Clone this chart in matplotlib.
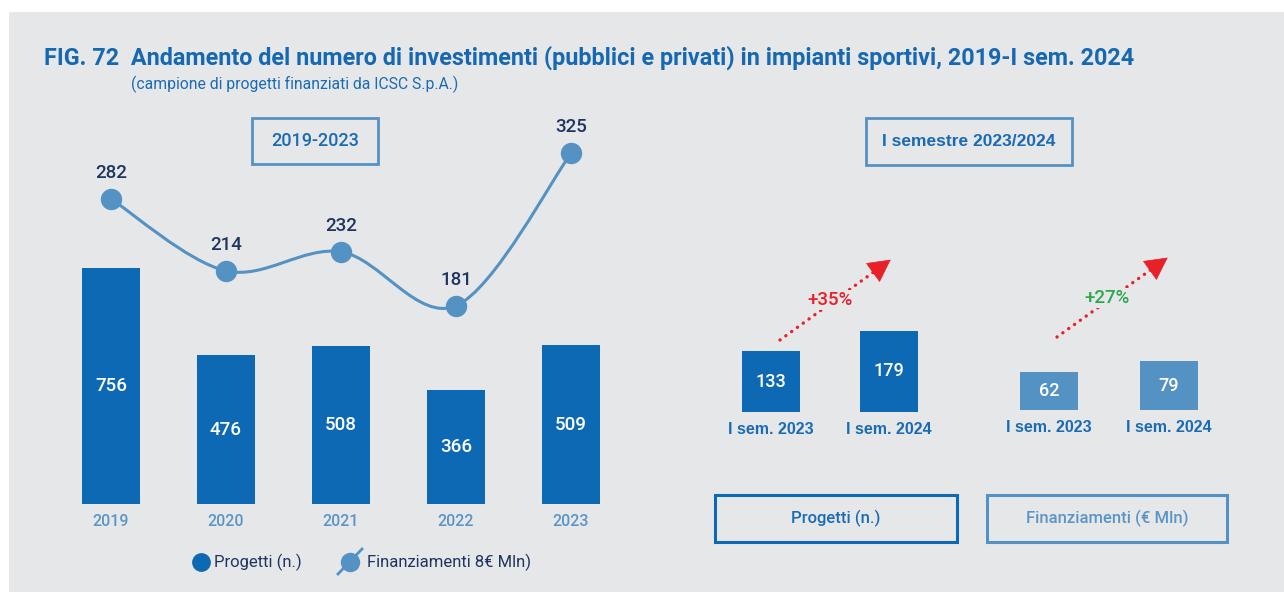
import numpy as np
import matplotlib
matplotlib.use('Agg')
import matplotlib.pyplot as plt
from matplotlib.path import Path
from matplotlib.patches import PathPatch, Rectangle
from matplotlib.lines import Line2D

W, H = 1284, 592

# dati 2019-2023
anni = ['2019', '2020', '2021', '2022', '2023']
progetti = [756, 476, 508, 366, 509]
finanziamenti = [282, 214, 232, 181, 325]

# dati primo semestre
sem_labels = ['I sem. 2023', 'I sem. 2024']
sem_progetti = [133, 179]
sem_finanz = [62, 79]
var_progetti = '+35%'
var_finanz = '+27%'

BG = '#e6e7e9'
BLU = '#0e69b4'
AZZ = '#5592c4'
TXT = '#1a6bb5'
TXT2 = '#5b95c7'
NAVY = '#1f3560'
ROSSO = '#e8202a'
VERDE = '#2ba84a'

plt.rcParams['font.family'] = ['Liberation Sans', 'DejaVu Sans']
PLEX = ['Roboto', 'DejaVu Sans']
COND = ['Liberation Sans Narrow', 'Roboto', 'DejaVu Sans']

fig = plt.figure(figsize=(W / 100, H / 100), dpi=100)
fig.patch.set_facecolor('white')


def fx(px):
    return px / W


def fy(py):
    return 1 - py / H


fig.add_artist(Rectangle((fx(9), 0), 1, fy(12), transform=fig.transFigure,
                         facecolor=BG, edgecolor='none', zorder=-10))


def pannello(x0, y0, x1, y1):
    # axes in pixel, origine in alto a sinistra
    ax = fig.add_axes([fx(x0), fy(y1), (x1 - x0) / W, (y1 - y0) / H])
    ax.set_axis_off()
    ax.patch.set_alpha(0)
    return ax


def riquadro(x0, y0, x1, y1, testo, ec, tc, lw=2, size=12, weight='bold', family=PLEX):
    fig.add_artist(Rectangle((fx(x0), fy(y1)), (x1 - x0) / W, (y1 - y0) / H,
                             transform=fig.transFigure, facecolor='none',
                             edgecolor=ec, lw=lw))
    fig.text(fx((x0 + x1) / 2), fy((y0 + y1) / 2), testo, ha='center', va='center',
             color=tc, fontsize=size, fontweight=weight, family=family)


def freccia(x0, y0, x1, y1, colore):
    t = 0.86
    xm, ym = x0 + (x1 - x0) * t, y0 + (y1 - y0) * t
    fig.add_artist(Line2D([fx(x0), fx(xm)], [fy(y0), fy(ym)], transform=fig.transFigure,
                          color=colore, lw=2.4, ls=(0, (0.05, 2.1)),
                          dash_capstyle='round', zorder=2))
    fig.add_artist(matplotlib.patches.FancyArrowPatch(
        (fx(xm - (x1 - x0) * 0.02), fy(ym - (y1 - y0) * 0.02)), (fx(x1), fy(y1)),
        transform=fig.transFigure, arrowstyle='-|>,head_length=0.95,head_width=0.5',
        mutation_scale=16, color=colore, lw=0.5, zorder=2))


# titolo
fig.text(fx(44), fy(58), 'FIG. 72  Andamento del numero di investimenti (pubblici e privati) '
         'in impianti sportivi, 2019-I sem. 2024', ha='left', va='center',
         fontsize=16.8, fontweight='bold', color='#1568b1', family=COND)
fig.text(fx(131), fy(84), '(campione di progetti finanziati da ICSC S.p.A.)', ha='left',
         va='center', fontsize=11.3, color=TXT, family=COND)

# --- pannello 2019-2023 ---
ax = pannello(53.5, 84, 628.5, 504)
x = np.arange(len(anni))
ax.set_xlim(-0.5, len(anni) - 0.5)
ax.set_ylim(0, 420 / 0.312)
ax.bar(x, progetti, width=0.504, color=BLU, zorder=1)
for i, v in enumerate(progetti):
    ax.text(i, v / 2, str(v), ha='center', va='center', color='white', fontsize=13.5,
            family=PLEX, fontweight='medium')
    ax.annotate(anni[i], (i, 0), xytext=(0, -18), textcoords='offset pixels',
                ha='center', va='center', color=TXT2, fontsize=11.5,
                family=PLEX, fontweight='medium')

ax2 = pannello(53.5, 84, 628.5, 504)
ax2.set_xlim(-0.5, len(anni) - 0.5)
ax2.set_ylim(-6.33, 390.6)
pts = np.column_stack([x, finanziamenti]).astype(float)
verts = [pts[0]]
codes = [Path.MOVETO]
n = len(pts)
for i in range(n - 1):
    p0, p1, p2, p3 = pts[max(i - 1, 0)], pts[i], pts[i + 1], pts[min(i + 2, n - 1)]
    verts += [p1 + (p2 - p0) / 6, p2 - (p3 - p1) / 6, p2]
    codes += [Path.CURVE4] * 3
ax2.add_patch(PathPatch(Path(verts, codes), facecolor='none', edgecolor=AZZ, lw=2.2, zorder=3))
ax2.plot(x, finanziamenti, 'o', ms=14.4, color=AZZ, zorder=4)
for i, v in enumerate(finanziamenti):
    ax2.annotate(str(v), (i, v), xytext=(0, 26), textcoords='offset pixels',
                 ha='center', va='center', color=NAVY, fontsize=13.5,
                 family=PLEX, fontweight='medium')

riquadro(252, 118, 378, 164, '2019-2023', AZZ, TXT, size=13, weight='medium')

# legenda
fig.add_artist(Line2D([fx(201)], [fy(562)], transform=fig.transFigure, marker='o',
                      ms=12.5, color=BLU, ls='none'))
fig.text(fx(214), fy(562), 'Progetti (n.)', ha='left', va='center', fontsize=12,
         color=NAVY, family=PLEX)
fig.add_artist(Line2D([fx(338), fx(362)], [fy(574), fy(549)], transform=fig.transFigure,
                      color=AZZ, lw=2))
fig.add_artist(Line2D([fx(350)], [fy(562)], transform=fig.transFigure, marker='o',
                      ms=13, color=AZZ, ls='none'))
fig.text(fx(367), fy(562), 'Finanziamenti 8€ Mln)', ha='left', va='center', fontsize=12,
         color=NAVY, family=PLEX)

# --- pannello primo semestre ---
riquadro(866, 118, 1072, 165, 'I semestre 2023/2024', AZZ, TXT, size=12.5,
         family=['Liberation Sans'])

axp = pannello(712, 212, 948, 412)
axp.set_xlim(-0.5, 1.5)
axp.set_ylim(0, 200 / 0.455)
axp.bar([0, 1], sem_progetti, width=0.49, color=BLU)
for i, v in enumerate(sem_progetti):
    axp.text(i, v / 2, str(v), ha='center', va='center', color='white', fontsize=13,
             family=PLEX, fontweight='medium')
    axp.annotate(sem_labels[i], (i, 0), xytext=(0, -18), textcoords='offset pixels',
                 ha='center', va='center', color=TXT, fontsize=11.5, fontweight='bold')

axf = pannello(989, 210, 1229, 410)
axf.set_xlim(-0.5, 1.5)
axf.set_ylim(0, 200 / 0.62)
axf.bar([0, 1], sem_finanz, width=0.483, color=AZZ)
for i, v in enumerate(sem_finanz):
    axf.text(i, v / 2, str(v), ha='center', va='center', color='white', fontsize=13,
             family=PLEX, fontweight='medium')
    axf.annotate(sem_labels[i], (i, 0), xytext=(0, -17), textcoords='offset pixels',
                 ha='center', va='center', color=TXT, fontsize=11.5, fontweight='bold')

freccia(780, 340, 893, 258, ROSSO)
fig.text(fx(830), fy(300), var_progetti, ha='center', va='center', fontsize=13.5,
         color=ROSSO, zorder=5, family=PLEX, fontweight='medium',
         bbox=dict(facecolor=BG, edgecolor='none', pad=1))
freccia(1057, 337, 1170, 256, ROSSO)
fig.text(fx(1107), fy(298), var_finanz, ha='center', va='center', fontsize=13.5,
         color=VERDE, zorder=5, family=PLEX, fontweight='medium',
         bbox=dict(facecolor=BG, edgecolor='none', pad=1))

riquadro(715, 495, 957, 542, 'Progetti (n.)', BLU, TXT, lw=2.2, size=12, weight='medium')
riquadro(987, 495, 1227, 542, 'Finanziamenti (€ Mln)', AZZ, TXT2, lw=2.2, size=12,
         weight='medium')

fig.savefig('out.png', dpi=100, facecolor=fig.get_facecolor())
